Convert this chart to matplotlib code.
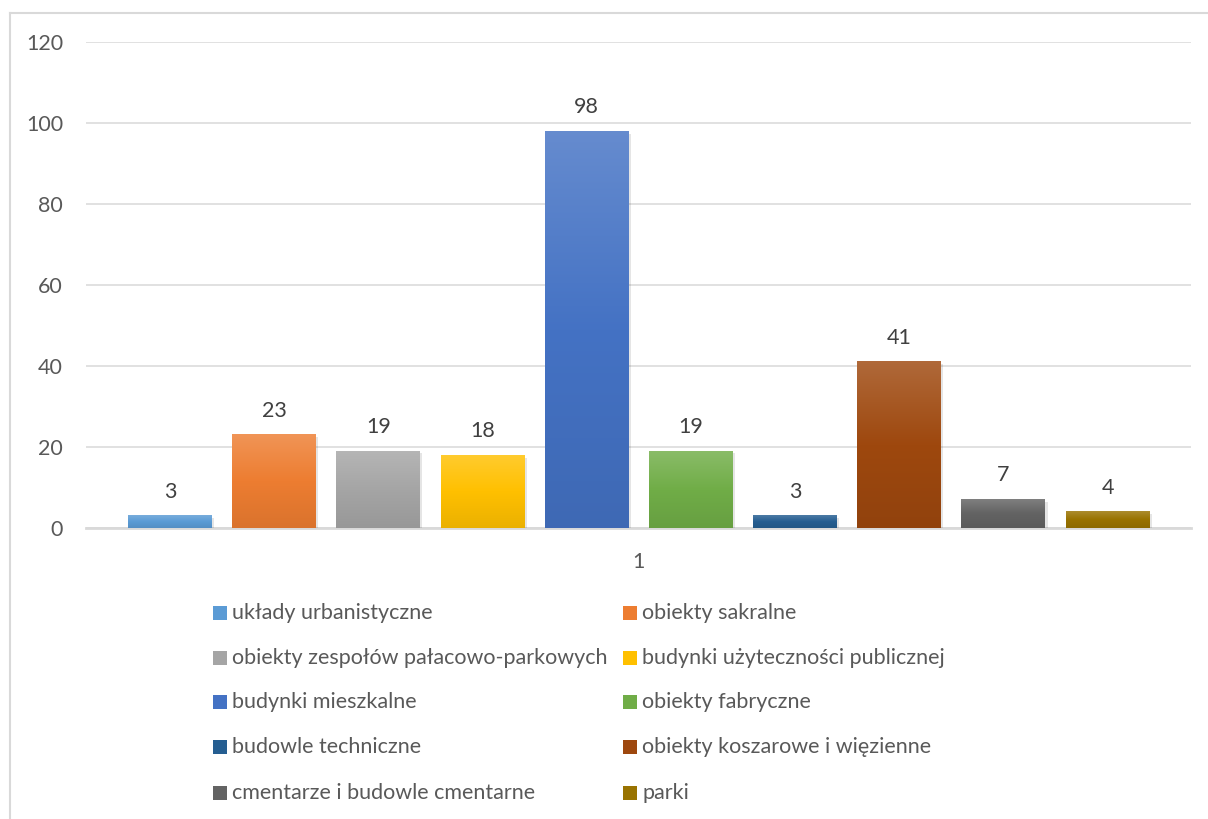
import numpy as np
import matplotlib
matplotlib.use("Agg")
import matplotlib.pyplot as plt
from matplotlib.colors import LinearSegmentedColormap, to_rgb
from matplotlib.patches import Rectangle
from matplotlib.lines import Line2D

plt.rcParams['font.family'] = ['Lato', 'DejaVu Sans']

CATEGORIES = [
    'układy urbanistyczne', 'obiekty sakralne',
    'obiekty zespołów pałacowo-parkowych', 'budynki użyteczności publicznej',
    'budynki mieszkalne', 'obiekty fabryczne',
    'budowle techniczne', 'obiekty koszarowe i więzienne',
    'cmentarze i budowle cmentarne', 'parki',
]
VALUES = [3, 23, 19, 18, 98, 19, 3, 41, 7, 4]
COLORS = ['#5B9BD5', '#ED7D31', '#A5A5A5', '#FFC000', '#4472C4',
          '#70AD47', '#255E91', '#9E480E', '#636363', '#997300']
X_LABEL = '1'
Y_TICKS = [0, 20, 40, 60, 80, 100, 120]

TEXT = '#595959'
GRID = '#D9D9D9'
FS = 15.5


def shade(c, f):
    r = np.array(to_rgb(c))
    if f >= 0:
        return tuple(r + (1 - r) * f)
    return tuple(r * (1 + f))


W, H = 1208, 819
fig = plt.figure(figsize=(W / 100, H / 100), dpi=100)
ax = fig.add_axes([86 / W, 1 - 528 / H, (1191 - 86) / W, (528 - 42) / H])

x = np.arange(len(VALUES))
width = 0.806
ax.set_xlim(-0.806, len(VALUES) - 1 + 0.80)
ax.set_ylim(0, 120)

for xi, v, c in zip(x, VALUES, COLORS):
    # soft shadow
    ax.add_patch(Rectangle((xi - width / 2 + 0.02, -0.6), width, v,
                           color='black', alpha=0.10, lw=0, zorder=2))
    cmap = LinearSegmentedColormap.from_list('g', [shade(c, -0.08), c, shade(c, 0.18)])
    grad = np.linspace(0, 1, 256).reshape(-1, 1)
    ax.imshow(grad, cmap=cmap, origin='lower', aspect='auto',
              extent=[xi - width / 2, xi + width / 2, 0, v], zorder=3)
    ax.text(xi, v + 3.5, str(v), ha='center', va='bottom',
            fontsize=FS, color='#404040', zorder=4)

ax.set_yticks(Y_TICKS)
ax.set_yticklabels([str(t) for t in Y_TICKS], fontsize=FS, color=TEXT)
ax.tick_params(axis='y', length=0, pad=16.5)
ax.set_xticks([(len(VALUES) - 1) / 2])
ax.set_xticklabels([X_LABEL], fontsize=FS, color=TEXT)
ax.tick_params(axis='x', length=0, pad=17)
ax.grid(axis='y', color=GRID, lw=1.1, zorder=0)
ax.set_axisbelow(True)
for s in ['top', 'right', 'left']:
    ax.spines[s].set_visible(False)
ax.spines['bottom'].set_color(GRID)
ax.spines['bottom'].set_linewidth(2)
ax.spines['bottom'].set_zorder(1)

# legend, two columns filled row by row
col_x = [213, 623]
row_y = [613, 658, 702, 747, 793]
sq = 14
for i, (lab, c) in enumerate(zip(CATEGORIES, COLORS)):
    cx = col_x[i % 2]
    cy = row_y[i // 2]
    fig.patches.append(Rectangle((cx / W, 1 - (cy + sq / 2) / H), sq / W, sq / H,
                                 transform=fig.transFigure, color=c, lw=0))
    fig.text((cx + sq + 5) / W, 1 - cy / H, lab, ha='left', va='center',
             fontsize=FS, color=TEXT)

# chart frame
fig.add_artist(Line2D([10 / W, 1.0], [1 - 13 / H] * 2, color=GRID, lw=1.5))
fig.add_artist(Line2D([10 / W] * 2, [0.0, 1 - 13 / H], color=GRID, lw=1.5))

fig.savefig('out.png', dpi=100)
